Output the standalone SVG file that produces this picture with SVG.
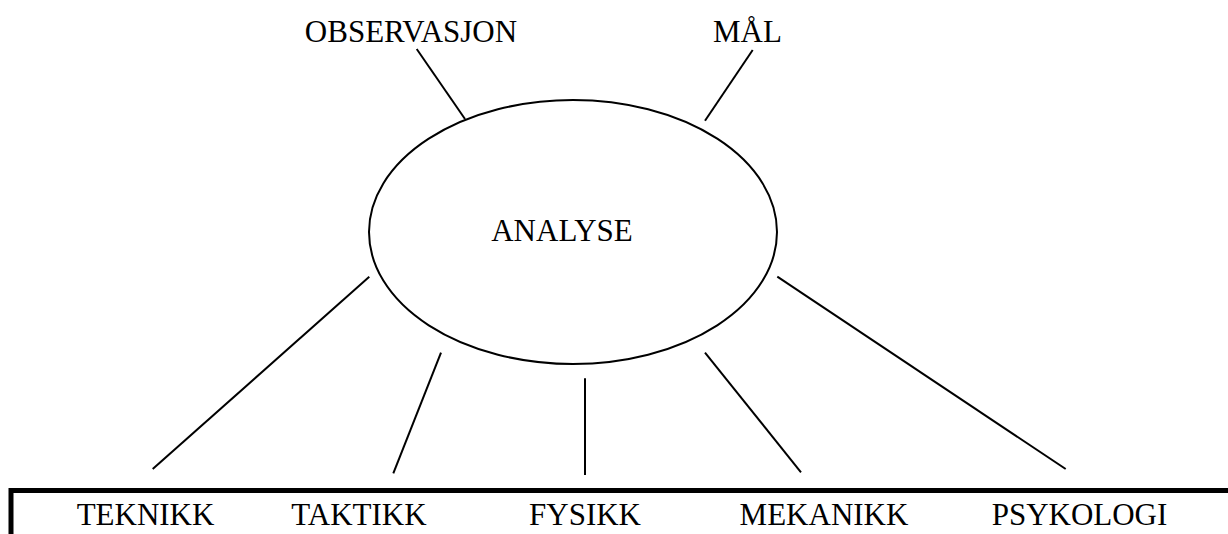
<svg xmlns="http://www.w3.org/2000/svg" width="1228" height="534" viewBox="0 0 1228 534">
  <style>
    .lbl { font-family: "Liberation Serif", "Times New Roman", serif; font-size: 31px; fill: #000; text-anchor: middle; }
    .conn { stroke: #000; stroke-width: 2; fill: none; stroke-linecap: butt; }
  </style>
  <rect width="1228" height="534" fill="#fff"/>
  <g id="connectors">
    <line class="conn" x1="416.7" y1="49" x2="465" y2="119"/>
    <line class="conn" x1="752.7" y1="50" x2="705" y2="120.7"/>
    <line class="conn" x1="369.3" y1="276.7" x2="152.7" y2="469"/>
    <line class="conn" x1="441" y1="352.7" x2="393.3" y2="473.3"/>
    <line class="conn" x1="585" y1="378.3" x2="585" y2="475"/>
    <line class="conn" x1="705" y1="352.7" x2="801" y2="472.3"/>
    <line class="conn" x1="777.3" y1="276.7" x2="1065.7" y2="469"/>
  </g>
  <g id="base">
    <path d="M 11 534 V 490.5 H 1228" fill="none" stroke="#000" stroke-width="5" stroke-linejoin="miter"/>
  </g>
  <g id="analyse">
    <ellipse cx="573" cy="232" rx="204" ry="132" fill="#fff" stroke="#000" stroke-width="2"/>
    <text class="lbl" x="562" y="241">ANALYSE</text>
  </g>
  <g id="observasjon"><text class="lbl" x="411" y="42">OBSERVASJON</text></g>
  <g id="mal"><text class="lbl" x="747.5" y="42">MÅL</text></g>
  <g id="teknikk"><text class="lbl" x="145.5" y="525">TEKNIKK</text></g>
  <g id="taktikk"><text class="lbl" x="359" y="525">TAKTIKK</text></g>
  <g id="fysikk"><text class="lbl" x="585" y="525">FYSIKK</text></g>
  <g id="mekanikk"><text class="lbl" x="824" y="525">MEKANIKK</text></g>
  <g id="psykologi"><text class="lbl" x="1079.5" y="525">PSYKOLOGI</text></g>
</svg>
